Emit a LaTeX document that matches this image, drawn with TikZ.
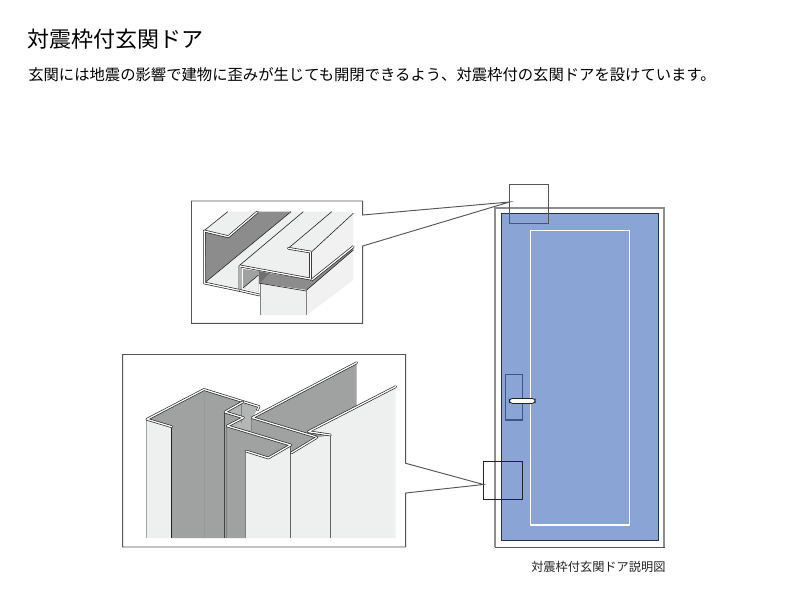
\documentclass[tikz,border=0pt]{standalone}
\usepackage{fontspec}
\setmainfont{Noto Sans CJK JP}
\definecolor{ink}{HTML}{222222}
\definecolor{framegray}{HTML}{555555}
\definecolor{outergray}{HTML}{8E8E8E}
\definecolor{darkface}{HTML}{8C8C8C}
\definecolor{midface}{HTML}{A0A2A1}
\definecolor{chanface}{HTML}{B4B5B5}
\definecolor{lightface}{HTML}{EEEFEF}
\definecolor{paleface}{HTML}{F1F1F1}
\definecolor{doorblue}{HTML}{8AA4D6}
\definecolor{doorline}{HTML}{24344C}
\definecolor{plateline}{HTML}{3C5582}
\tikzset{
  x=.75pt,y=-.75pt,
  strip/.style={draw=ink,double=white,double distance=.95pt,line width=.5pt,line join=round,line cap=round},
  edgeline/.style={draw=ink,line width=.45pt,line join=round},
  softline/.style={draw=#1,line width=.5pt},
  facefill/.style={fill=#1,draw=none},
  callout/.style={draw=framegray,line width=.7pt,fill=white,line join=miter},
  txt/.style={anchor=west,inner sep=0pt,text=black},
}
\begin{document}
\begin{tikzpicture}
\useasboundingbox (0,0) rectangle (800,600);
\fill[white] (0,0) rectangle (800,600);

\node[txt,font=\fontsize{16.5pt}{18pt}\selectfont] (title) at (27,39) {対震枠付玄関ドア};
\node[txt,font=\fontsize{11.5pt}{13pt}\selectfont] (lead) at (28,75) {玄関には地震の影響で建物に歪みが生じても開閉できるよう、対震枠付の玄関ドアを設けています。};
\node[txt,font=\fontsize{9.15pt}{11pt}\selectfont,text=ink] (caption) at (531,567) {対震枠付玄関ドア説明図};

% door
\draw[draw=outergray,line width=1.3pt] (495,547.3) -- (495,208) -- (664.3,208) -- (664.3,547.3);
\draw[draw=framegray,line width=1.2pt] (494.5,547.3) -- (664.8,547.3);
\filldraw[fill=doorblue,draw=doorline,line width=.9pt] (501.3,213.7) rectangle (658.7,540.7);
\draw[white,line width=.9pt] (530.7,230.7) rectangle (629.3,525);
\draw[plateline,line width=1pt] (505.7,374.3) rectangle (522.7,420);
\draw[ink,fill=white,line width=.6pt,rounded corners=2.4pt] (509.3,398.4) rectangle (535.3,403.4);

% marker squares
\coordinate (topapex) at (509.5,202);
\coordinate (botapex) at (483.5,484.5);
\draw[draw=framegray,line width=.8pt] (509.5,184.7) rectangle (548.7,223.3);
\draw[draw=ink,line width=.6pt] (483.5,461.3) rectangle (522.3,499.3);

% upper callout
\coordinate (ua) at (362.7,215);
\coordinate (ub) at (362.7,246);
\draw[callout] (ua) -- (362.7,201) -- (191.5,201) -- (191.5,323.3) -- (362.7,323.3) -- (ub) -- (topapex) -- cycle;
% upper detail: faces
\fill[facefill=lightface] (204,230.7) -- (227.7,211.7) -- (257.3,211.7) -- (228.3,236.7) -- cycle;
\fill[facefill=darkface] (205,231) -- (228.3,236.7) -- (257.3,211.7) -- (291,211.7) -- (206,281.7) -- cycle;
\fill[facefill=lightface] (206,281.7) -- (291,211.7) -- (303.3,211.7) -- (240,265) -- (240,289) -- cycle;
\fill[facefill=lightface] (240,265) -- (303.3,211.7) -- (353.3,211.7) -- (311.7,251.7) -- (311.7,280) -- cycle;
\fill[facefill=paleface] (311.7,251.7) -- (353.3,213.3) -- (353.3,246.7) -- (311.7,280) -- cycle;
\fill[facefill=midface] (243,269) -- (258.5,271) -- (258.5,292) -- (243,288) -- cycle;
\fill[facefill=darkface!80!black] (258.5,271) -- (270,273.3) -- (258.5,285) -- cycle;
\fill[facefill=lightface] (243,288) -- (258.5,275) -- (258.5,292) -- cycle;
\fill[facefill=paleface] (306.7,290) -- (353.3,250) -- (353.3,280) -- (306.7,315) -- cycle;
\fill[facefill=darkface] (270,273.3) -- (311.7,280) -- (353.3,246.7) -- (353.3,250) -- (306.7,290) -- (260,283.3) -- cycle;
\fill[facefill=lightface] (260,283.3) -- (306.2,290) -- (306.2,315) -- (260,315) -- cycle;
% upper detail: edges
\draw[edgeline] (204,230.7) -- (227.7,211.7);
\draw[edgeline] (206,281.7) -- (291,211.7);
\draw[edgeline] (240,265) -- (303.3,211.7);
\draw[edgeline] (288.3,248.3) -- (331.7,211.7);
\draw[edgeline] (311.7,251.7) -- (353.3,213.3);
\draw[edgeline] (243,288) -- (258.5,275);
\draw[strip] (257.3,212) -- (228.3,236.7) -- (204.3,231) -- (204.3,283) -- (240,290.5) -- (240,266) -- (310.5,279) -- (310.5,252) -- (288.3,248.3);
\draw[strip] (240,290.5) -- (259.5,295);
\draw[strip] (311.7,280) -- (353.3,246.7);
\draw[softline=gray] (260,283.3) -- (260,315);
\draw[softline=gray] (306.2,290) -- (306.2,315);
\draw[edgeline] (260,283.3) -- (306.2,291);
\draw[edgeline] (306.7,290) -- (353.3,250);

% lower callout
\coordinate (la) at (405.7,463.3);
\coordinate (lb) at (405.7,493);
\draw[callout] (la) -- (405.7,354.5) -- (122.7,354.5) -- (122.7,547) -- (405.7,547) -- (lb) -- (botapex) -- cycle;
% lower detail: faces
\fill[facefill=midface] (252.3,417.7) -- (356.7,362.7) -- (356.7,406.9) -- (308.3,431.7) -- (330.5,435) -- (316.7,438) -- (291,445) -- cycle;
\fill[facefill=lightface] (330.3,435) -- (308.3,431.7) -- (395.7,386.7) -- (395.7,538) -- (330.3,538) -- cycle;
\fill[facefill=lightface] (146.7,419.3) -- (171.7,426.7) -- (171.7,538) -- (146.7,538) -- cycle;
\fill[facefill=midface] (171.7,538) -- (171.7,426.7) -- (146.7,419.3) -- (204,389.5) -- (259,406.5) -- (252.3,417.7) -- (316.7,437.5) -- (291,453.3) -- (290.7,445) -- (268.3,457.7) -- (245.7,451) -- (245.7,538) -- cycle;
\fill[facefill=chanface] (225,412.3) -- (242.7,402) -- (258,407) -- (252,418) -- (252,431) -- (227.3,426) -- (243.3,417.7) -- cycle;
\fill[facefill=lightface] (245.7,451) -- (268.3,457.7) -- (290.7,445) -- (290.7,538) -- (245.7,538) -- cycle;
\fill[facefill=lightface] (290.7,453.3) -- (316.7,438) -- (330.3,435) -- (330.3,538) -- (290.7,538) -- cycle;
\draw[softline=gray!80] (204,389.5) -- (204,538);
\draw[softline=ink] (171.5,427) -- (171.5,538);
\draw[softline=ink!85] (224.5,412.3) -- (224.5,538);
\draw[softline=gray] (226.8,426) -- (226.8,538);
\draw[softline=gray] (241.7,403) -- (241.7,423);
\draw[softline=gray] (251.7,418) -- (251.7,431);
\draw[softline=gray!70] (146.7,419.3) -- (146.7,538);
\draw[softline=gray] (245.7,451) -- (245.7,538);
\draw[softline=ink!70] (290.7,445) -- (290.7,538);
\draw[softline=ink!70] (330.3,435) -- (330.3,538);
\draw[strip] (171.7,426.7) -- (146.9,419.3) -- (204,389.5) -- (259,406.5) -- (257.5,410);
\draw[strip] (242.7,402) -- (225,412) -- (243.3,417.7) -- (227.3,426) -- (290.7,445) -- (268.3,458) -- (245.9,451);
\draw[strip] (356.7,362.7) -- (252.3,417.7) -- (316.5,437);
\draw[strip] (395.7,386.7) -- (308.3,431.7) -- (330.4,435);
\draw[strip] (316.7,437.5) -- (291.5,452.8);
\end{tikzpicture}
\end{document}
